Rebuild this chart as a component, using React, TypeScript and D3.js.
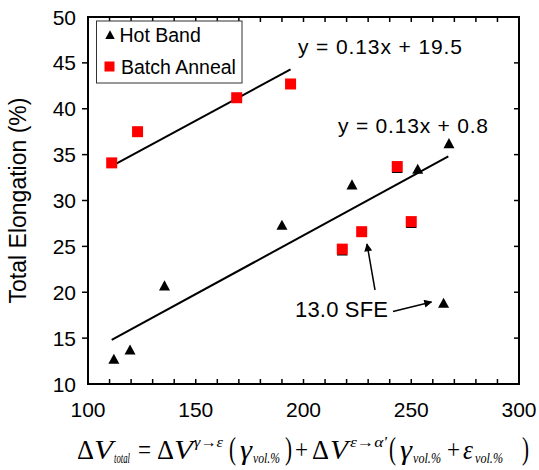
import React from "react";
import * as d3 from "d3";

// ---- data ----
const hotBandX = [112, 119.5, 135.5, 190, 222.5, 253, 267.5, 265, 243.5, 250, 218];
const hotBandY = [12.7, 13.7, 20.7, 27.3, 31.7, 33.4, 36.2, 18.8, 33.5, 27.5, 24.5];
const batchX = [111, 123, 169, 194, 243.5, 250, 227, 218];
const batchY = [34.1, 37.5, 41.2, 42.7, 33.7, 27.7, 26.6, 24.7];

const trendNames = ["Batch Anneal", "Hot Band"];
const trendSlope = [0.127, 0.128];
const trendIntercept = [19.65, 0.6];
const trendXStart = [111.4, 111];
const trendXEnd = [194, 267.2];
const trendLabels = ["y = 0.13x + 19.5", "y = 0.13x + 0.8"];

const xTicks = [100, 150, 200, 250, 300];
const yTicks = [10, 15, 20, 25, 30, 35, 40, 45, 50];
const xMinorTicks = d3.range(110, 300, 10);

const legendLabels = ["Hot Band", "Batch Anneal"];
const annotationText = "13.0 SFE";

// ---- layout ----
const W = 539;
const H = 470;
const PL = 88, PR = 519, PT = 17, PB = 384;
const SANS = "Arial, 'Liberation Sans', sans-serif";
const SERIF = "'Times New Roman', 'Liberation Serif', serif";

const x = d3.scaleLinear().domain([100, 300]).range([PL, PR]);
const y = d3.scaleLinear().domain([10, 50]).range([PB, PT]);

function tri(cx: number, cy: number, s = 11) {
  const h = s * 0.92;
  return `M${cx},${cy - h * 0.55}L${cx + s / 2},${cy + h * 0.45}L${cx - s / 2},${cy + h * 0.45}Z`;
}

type Piece = { t: string; x: number; w: number; kind: "main" | "sub" | "sup" | "paren"; it?: boolean };
const formula: Piece[] = [
  { t: "Δ", x: 77, w: 17, kind: "main" },
  { t: "V", x: 94, w: 19, kind: "main", it: true },
  { t: "total", x: 114, w: 16, kind: "sub", it: true },
  { t: "=", x: 138, w: 13, kind: "main" },
  { t: "Δ", x: 157, w: 17, kind: "main" },
  { t: "V", x: 174, w: 19, kind: "main", it: true },
  { t: "γ→ε", x: 194, w: 29, kind: "sup", it: true },
  { t: "(", x: 229, w: 7, kind: "paren" },
  { t: "γ", x: 240, w: 12, kind: "main", it: true },
  { t: "vol.%", x: 253, w: 27, kind: "sub", it: true },
  { t: ")", x: 285, w: 7, kind: "paren" },
  { t: "+", x: 295, w: 13, kind: "main" },
  { t: "Δ", x: 312, w: 17, kind: "main" },
  { t: "V", x: 330, w: 18, kind: "main", it: true },
  { t: "ε→α'", x: 350, w: 37, kind: "sup", it: true },
  { t: "(", x: 389, w: 7, kind: "paren" },
  { t: "γ", x: 400, w: 12, kind: "main", it: true },
  { t: "vol.%", x: 413, w: 28, kind: "sub", it: true },
  { t: "+", x: 447, w: 13, kind: "main" },
  { t: "ε", x: 463, w: 10, kind: "main", it: true },
  { t: "vol.%", x: 475, w: 28, kind: "sub", it: true },
  { t: ")", x: 522, w: 7, kind: "paren" },
];

export default function App() {
  const lineGen = d3.line<[number, number]>().x((d) => x(d[0])).y((d) => y(d[1]));
  return (
    <svg width={W} height={H} style={{ display: "block", position: "absolute", left: 0, top: 0, background: "#fff" }}>
      <defs>
        <marker id="ah" viewBox="0 0 10 10" refX="9" refY="5" markerWidth="10" markerHeight="8" markerUnits="userSpaceOnUse" orient="auto">
          <path d="M0,0L10,5L0,10Z" fill="#000" />
        </marker>
      </defs>
      <rect x={0} y={0} width={W} height={H} fill="#fff" />

      {/* trend lines */}
      {trendNames.map((n, i) => (
        <path
          key={n}
          d={lineGen([
            [trendXStart[i], trendSlope[i] * trendXStart[i] + trendIntercept[i]],
            [trendXEnd[i], trendSlope[i] * trendXEnd[i] + trendIntercept[i]],
          ]) || ""}
          stroke="#000"
          strokeWidth={2}
          fill="none"
        />
      ))}

      {/* hot band */}
      {hotBandX.map((v, i) => (
        <path key={"h" + i} d={tri(x(v), y(hotBandY[i]))} fill="#000" />
      ))}
      {/* batch anneal */}
      {batchX.map((v, i) => (
        <rect key={"b" + i} x={x(v) - 5.5} y={y(batchY[i]) - 5.5} width={11} height={11} fill="#ff0000" />
      ))}

      {/* frame */}
      <rect x={PL} y={PT} width={PR - PL} height={PB - PT} fill="none" stroke="#000" strokeWidth={2} />
      {xMinorTicks.map((t) => (
        <g key={"xt" + t}>
          <line x1={x(t)} x2={x(t)} y1={PB} y2={PB - 5} stroke="#000" strokeWidth={1.5} />
          <line x1={x(t)} x2={x(t)} y1={PT} y2={PT + 5} stroke="#000" strokeWidth={1.5} />
        </g>
      ))}
      {yTicks.slice(1, -1).map((t) => (
        <g key={"yt" + t}>
          <line x1={PL - 6} x2={PL} y1={y(t)} y2={y(t)} stroke="#000" strokeWidth={1.5} />
          <line x1={PR} x2={PR - 5} y1={y(t)} y2={y(t)} stroke="#000" strokeWidth={1.5} />
        </g>
      ))}
      {yTicks.map((t) => (
        <text key={"yl" + t} x={PL - 12} y={y(t)} dy="0.36em" textAnchor="end" fontFamily={SANS} fontSize={21} fill="#000">
          {t}
        </text>
      ))}
      {xTicks.map((t) => (
        <text key={"xl" + t} x={x(t)} y={PB + 33} textAnchor="middle" fontFamily={SANS} fontSize={21} fill="#000">
          {t}
        </text>
      ))}

      {/* y label */}
      <text transform={`translate(26,${(PT + PB) / 2}) rotate(-90)`} textAnchor="middle" fontFamily={SANS} fontSize={23} fill="#000">
        Total Elongation (%)
      </text>

      {/* legend */}
      <rect x={96.5} y={21} width={145.5} height={62} fill="#fff" stroke="#333" strokeWidth={1} />
      <path d={tri(110, 35, 9.5)} fill="#000" />
      <text x={119.5} y={42} fontFamily={SANS} fontSize={19.5} fill="#000">{legendLabels[0]}</text>
      <rect x={104.5} y={61.5} width={10} height={10} fill="#ff0000" />
      <text x={121} y={74} fontFamily={SANS} fontSize={19.5} fill="#000">{legendLabels[1]}</text>

      {/* trend labels */}
      <text x={298} y={54} fontFamily={SANS} fontSize={21} textLength={164} lengthAdjust="spacing" fill="#000">{trendLabels[0]}</text>
      <text x={338} y={133} fontFamily={SANS} fontSize={21} textLength={150} lengthAdjust="spacing" fill="#000">{trendLabels[1]}</text>

      {/* annotation */}
      <text x={295} y={317} fontFamily={SANS} fontSize={22} textLength={93} lengthAdjust="spacing" fill="#000">{annotationText}</text>
      <line x1={375} y1={290} x2={367} y2={244} stroke="#000" strokeWidth={1.5} markerEnd="url(#ah)" />
      <line x1={393} y1={311.5} x2={431.5} y2={302} stroke="#000" strokeWidth={1.5} markerEnd="url(#ah)" />

      {/* x axis formula */}
      <text fontFamily={SERIF} fill="#000">
        {formula.map((p, i) => {
          const size = p.kind === "main" ? 27 : p.kind === "paren" ? 31 : 15;
          const yy = p.kind === "sub" ? 463 : p.kind === "sup" ? 447 : 459;
          return (
            <tspan
              key={"f" + i}
              x={p.x}
              y={yy}
              fontSize={size}
              fontStyle={p.it ? "italic" : "normal"}
              textLength={p.w}
              lengthAdjust="spacingAndGlyphs"
            >
              {p.t}
            </tspan>
          );
        })}
      </text>
    </svg>
  );
}
